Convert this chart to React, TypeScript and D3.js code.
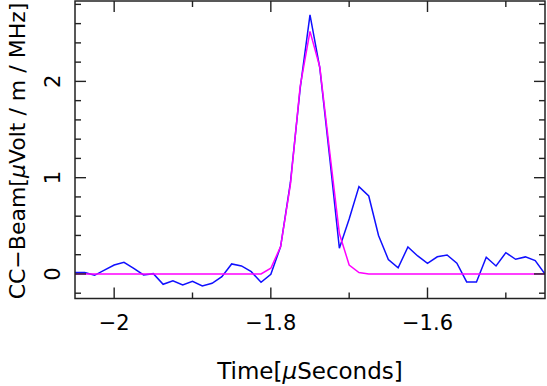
import React from "react";
import * as d3 from "d3";

const times = [
  -2.05, -2.0375, -2.025, -2.0125, -2.0, -1.9875, -1.975, -1.9625, -1.95, -1.9375,
  -1.925, -1.9125, -1.9, -1.8875, -1.875, -1.8625, -1.85, -1.8375, -1.825, -1.8125,
  -1.8, -1.7875, -1.775, -1.7625, -1.75, -1.7375, -1.725, -1.7125, -1.7, -1.6875,
  -1.675, -1.6625, -1.65, -1.6375, -1.625, -1.6125, -1.6, -1.5875, -1.575, -1.5625,
  -1.55, -1.5375, -1.525, -1.5125, -1.5, -1.4875, -1.475, -1.4625, -1.45,
];

const beamValues = [
  0.014, 0.014, -0.014, 0.04, 0.093, 0.121, 0.059, -0.01, 0.003, -0.107,
  -0.07, -0.114, -0.076, -0.125, -0.097, -0.028, 0.104, 0.083, 0.024, -0.086,
  -0.003, 0.284, 0.95, 1.93, 2.69, 2.14, 1.22, 0.267, 0.57, 0.907,
  0.81, 0.4, 0.15, 0.064, 0.28, 0.187, 0.111, 0.178, 0.197, 0.111,
  -0.083, -0.083, 0.173, 0.083, 0.221, 0.152, 0.177, 0.138, 0.0,
];

const fitValues = [
  0, 0, 0, 0, 0, 0, 0, 0, 0, 0,
  0, 0, 0, 0, 0, 0, 0, 0, 0, 0,
  0.059, 0.284, 0.93, 1.95, 2.52, 2.15, 1.28, 0.42, 0.093, 0.014,
  0, 0, 0, 0, 0, 0, 0, 0, 0, 0,
  0, 0, 0, 0, 0, 0, 0, 0, 0,
];

const xMajorTicks = [-2, -1.8, -1.6];
const xMinorTicks = [-1.9, -1.7, -1.5];
const xTickLabels = ["\u22122", "\u22121.8", "\u22121.6"];
const yMajorTicks = [0, 1, 2];
const yMinorTicks = [-0.2, 0.2, 0.4, 0.6, 0.8, 1.2, 1.4, 1.6, 1.8, 2.2, 2.4, 2.6, 2.8];
const yTickLabels = ["0", "1", "2"];

const xTitleParts = ["Time[", "\u03bc", "Seconds]"];
const yTitleParts = ["CC\u2212Beam[", "\u03bc", "Volt / m / MHz]"];

export default function App() {
  const W = 547, H = 386;
  const left = 75, right = 545, top = 1, bottom = 298.5;
  const x = d3.scaleLinear().domain([-2.05, -1.45]).range([left, right]);
  const y = d3.scaleLinear().domain([-0.255, 2.835]).range([bottom, top]);
  const pts = (vals: number[]) => times.map((t, i) => [t, vals[i]] as [number, number]);
  const line = d3.line<[number, number]>().x(d => x(d[0])).y(d => y(d[1]));
  const axisColor = "#222";
  const font = "DejaVu Sans";
  const majorLen = 11, minorLen = 6;

  return (
    <svg width={W} height={H} style={{ position: "absolute", left: 0, top: 0, background: "#fff" }}>
      <rect x={0} y={0} width={W} height={H} fill="#fff" />
      <defs>
        <clipPath id="plotclip">
          <rect x={left} y={top} width={right - left} height={bottom - top} />
        </clipPath>
      </defs>
      <g clipPath="url(#plotclip)">
        <path d={line(pts(beamValues)) || ""} fill="none" stroke="#1010ff" strokeWidth={1.5} />
        <path d={line(pts(fitValues)) || ""} fill="none" stroke="#ff00ff" strokeWidth={1.5} />
      </g>
      <g stroke={axisColor} strokeWidth={1.4}>
        {xMajorTicks.map(t => (
          <g key={"xM" + t}>
            <line x1={x(t)} x2={x(t)} y1={bottom} y2={bottom - majorLen} />
            <line x1={x(t)} x2={x(t)} y1={top} y2={top + majorLen} />
          </g>
        ))}
        {xMinorTicks.map(t => (
          <g key={"xm" + t}>
            <line x1={x(t)} x2={x(t)} y1={bottom} y2={bottom - minorLen} />
            <line x1={x(t)} x2={x(t)} y1={top} y2={top + minorLen} />
          </g>
        ))}
        {yMajorTicks.map(t => (
          <g key={"yM" + t}>
            <line x1={left} x2={left + majorLen} y1={y(t)} y2={y(t)} />
            <line x1={right} x2={right - majorLen} y1={y(t)} y2={y(t)} />
          </g>
        ))}
        {yMinorTicks.map(t => (
          <g key={"ym" + t}>
            <line x1={left} x2={left + minorLen} y1={y(t)} y2={y(t)} />
            <line x1={right} x2={right - minorLen} y1={y(t)} y2={y(t)} />
          </g>
        ))}
      </g>
      <rect x={left} y={top} width={right - left} height={bottom - top} fill="none" stroke={axisColor} strokeWidth={1.5} />
      <g fontFamily={font} fontSize={21} fill="#000">
        {xMajorTicks.map((t, i) => (
          <text key={"xl" + t} x={x(t)} y={330} textAnchor="middle">{xTickLabels[i]}</text>
        ))}
        {yMajorTicks.map((t, i) => (
          <text key={"yl" + t} transform={`translate(60,${y(t)}) rotate(-90)`} textAnchor="middle">{yTickLabels[i]}</text>
        ))}
      </g>
      <text x={(left + right) / 2} y={379} textAnchor="middle" fontFamily={font} fontSize={23} fill="#000">
        {xTitleParts[0]}<tspan fontStyle="italic">{xTitleParts[1]}</tspan>{xTitleParts[2]}
      </text>
      <text transform={`translate(25,151) rotate(-90)`} textAnchor="middle" fontFamily={font} fontSize={22} fill="#000">
        {yTitleParts[0]}<tspan fontStyle="italic">{yTitleParts[1]}</tspan>{yTitleParts[2]}
      </text>
    </svg>
  );
}
